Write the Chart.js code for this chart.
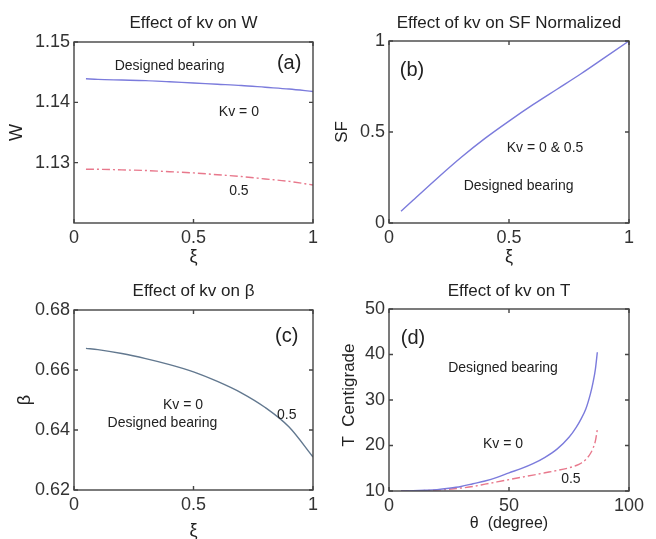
<!DOCTYPE html>
<html>
<head>
<meta charset="utf-8">
<script src="https://cdn.jsdelivr.net/npm/chart.js@4.4.1/dist/chart.umd.min.js"></script>
<style>
  html, body { margin: 0; padding: 0; background: #fff; }
  #wrap { position: relative; width: 656px; height: 539px; overflow: hidden; }
  canvas { position: absolute; }
</style>
</head>
<body>
<div id="wrap">
  <canvas id="chartA" width="328" height="268" style="left:0;top:0"></canvas>
  <canvas id="chartB" width="328" height="268" style="left:328px;top:0"></canvas>
  <canvas id="chartC" width="328" height="271" style="left:0;top:268px"></canvas>
  <canvas id="chartD" width="328" height="271" style="left:328px;top:268px"></canvas>
</div>
<script>
// Data
const xiValues = [0.05, 0.1, 0.2, 0.3, 0.4, 0.5, 0.6, 0.7, 0.8, 0.9, 1.0];
const wKv0 = [1.1439, 1.1438, 1.1437, 1.1436, 1.1434, 1.1432, 1.1430, 1.1428, 1.1425, 1.1422, 1.1418];
const wKv05 = [1.1289, 1.1289, 1.1288, 1.1287, 1.1285, 1.1283, 1.1280, 1.1277, 1.1273, 1.1269, 1.1263];
const sfValues = [0.065, 0.125, 0.245, 0.36, 0.465, 0.56, 0.65, 0.735, 0.82, 0.91, 1.0];
const betaValues = [0.6672, 0.6668, 0.6655, 0.6638, 0.6618, 0.6594, 0.6562, 0.6524, 0.6475, 0.6410, 0.6310];
const thetaValues = [5, 10, 15, 20, 25, 30, 35, 40, 45, 50, 55, 60, 65, 70, 75, 78, 80, 82, 84, 85, 86, 86.8];
const tKv0 = [10, 10.05, 10.15, 10.3, 10.6, 11.0, 11.6, 12.2, 13.0, 14.0, 14.9, 16.0, 17.4, 19.2, 21.8, 24.0, 25.8, 28.0, 31.5, 33.8, 36.8, 40.5];
const tKv05 = [10, 10.02, 10.1, 10.2, 10.4, 10.65, 11.0, 11.5, 12.0, 12.5, 13.0, 13.5, 14.0, 14.5, 15.1, 15.6, 16.1, 16.9, 18.3, 19.4, 21.0, 23.5];

// Tick labels
const xiTicks = [0, 0.5, 1];
const wTicks = [1.13, 1.14, 1.15];
const sfTicks = [0, 0.5, 1];
const betaTicks = [0.62, 0.64, 0.66, 0.68];
const thetaTicks = [0, 50, 100];
const tTicks = [10, 20, 30, 40, 50];

const FONT = '"Liberation Sans", Arial, sans-serif';
const BLUE = '#7b7bdc';
const RED = '#e8788c';
const GREY_BLUE = '#62788f';

const toPoints = (xs, ys) => xs.map((x, i) => ({ x: x, y: ys[i] }));

// box, inward ticks, titles and notes drawn MATLAB-style
const decorPlugin = {
    id: 'decor',
    afterDraw(chart, args, opts) {
        const { ctx, chartArea: a, scales: { x, y } } = chart;
        ctx.save();
        ctx.strokeStyle = '#444';
        ctx.lineWidth = 1.4;
        ctx.strokeRect(a.left, a.top, a.right - a.left, a.bottom - a.top);

        ctx.beginPath();
        x.ticks.forEach(t => {
            const px = x.getPixelForValue(t.value);
            ctx.moveTo(px, a.bottom); ctx.lineTo(px, a.bottom - 4);
            ctx.moveTo(px, a.top); ctx.lineTo(px, a.top + 4);
        });
        y.ticks.forEach(t => {
            const py = y.getPixelForValue(t.value);
            ctx.moveTo(a.left, py); ctx.lineTo(a.left + 4, py);
            ctx.moveTo(a.right, py); ctx.lineTo(a.right - 4, py);
        });
        ctx.stroke();

        ctx.fillStyle = '#222';
        ctx.textAlign = 'center';
        ctx.textBaseline = 'middle';
        ctx.font = '17px ' + FONT;
        ctx.fillText(opts.title, (a.left + a.right) / 2, opts.titleY);

        ctx.font = opts.xTitleSize + 'px ' + FONT;
        ctx.fillText(opts.xTitle, (a.left + a.right) / 2, opts.xTitleY);

        ctx.save();
        ctx.translate(opts.yTitleX, opts.yTitleY || (a.top + a.bottom) / 2);
        ctx.rotate(-Math.PI / 2);
        ctx.font = opts.yTitleSize + 'px ' + FONT;
        ctx.fillText(opts.yTitle, 0, 0);
        ctx.restore();

        opts.notes.forEach(n => {
            ctx.font = n.size + 'px ' + FONT;
            ctx.fillText(n.text, x.getPixelForValue(n.x), y.getPixelForValue(n.y));
        });
        ctx.restore();
    }
};

function makeScale(min, max, tickArr, fit, fmt, axis) {
    return {
        type: 'linear',
        min: min,
        max: max,
        grid: { display: false, drawTicks: false },
        border: { display: false },
        afterBuildTicks: s => { s.ticks = tickArr.map(v => ({ value: v })); },
        afterFit: s => { if (axis === 'x') s.height = fit; else s.width = fit; },
        ticks: {
            color: '#333',
            font: { family: FONT, size: 18 },
            padding: 4,
            maxRotation: 0,
            autoSkip: false,
            callback: fmt
        }
    };
}

function buildChart(id, datasets, x, y, pad, decor) {
    return new Chart(document.getElementById(id), {
        type: 'line',
        data: { datasets: datasets },
        options: {
            responsive: false,
            animation: false,
            events: [],
            layout: { padding: pad },
            elements: { point: { radius: 0 } },
            plugins: { legend: { display: false }, title: { display: false }, tooltip: { enabled: false }, decor: decor },
            scales: { x: x, y: y }
        },
        plugins: [decorPlugin]
    });
}

const plain = v => String(v);
const two = v => v.toFixed(2);

function lineSet(xs, ys, color, dash) {
    return {
        data: toPoints(xs, ys),
        borderColor: color,
        borderWidth: 1.4,
        borderDash: dash || [],
        cubicInterpolationMode: 'monotone',
        fill: false
    };
}

// (a) W
buildChart('chartA',
    [lineSet(xiValues, wKv0, BLUE), lineSet(xiValues, wKv05, RED, [8, 3, 2, 3])],
    makeScale(0, 1, xiTicks, 45, plain, 'x'),
    makeScale(1.12, 1.15, wTicks, 74, two, 'y'),
    { left: 0, right: 15, top: 42, bottom: 0 },
    {
        title: 'Effect of kv on W', titleY: 23,
        xTitle: 'ξ', xTitleY: 257, xTitleSize: 18,
        yTitle: 'W', yTitleX: 17, yTitleSize: 18,
        notes: [
            { text: 'Designed bearing', x: 0.40, y: 1.146, size: 14 },
            { text: '(a)', x: 0.90, y: 1.1465, size: 20 },
            { text: 'Kv = 0', x: 0.69, y: 1.1384, size: 14 },
            { text: '0.5', x: 0.69, y: 1.1253, size: 14 }
        ]
    });

// (b) SF normalized
buildChart('chartB',
    [lineSet(xiValues, sfValues, BLUE)],
    makeScale(0, 1, xiTicks, 45, plain, 'x'),
    makeScale(0, 1, sfTicks, 61, plain, 'y'),
    { left: 0, right: 27, top: 41, bottom: 0 },
    {
        title: 'Effect of kv on SF Normalized', titleY: 23,
        xTitle: 'ξ', xTitleY: 257, xTitleSize: 18,
        yTitle: 'SF', yTitleX: 14, yTitleSize: 17,
        notes: [
            { text: '(b)', x: 0.096, y: 0.84, size: 20 },
            { text: 'Kv = 0 & 0.5', x: 0.65, y: 0.41, size: 14 },
            { text: 'Designed bearing', x: 0.54, y: 0.20, size: 14 }
        ]
    });

// (c) beta
buildChart('chartC',
    [lineSet(xiValues, betaValues, GREY_BLUE)],
    makeScale(0, 1, xiTicks, 49, plain, 'x'),
    makeScale(0.62, 0.68, betaTicks, 74, two, 'y'),
    { left: 0, right: 15, top: 42, bottom: 0 },
    {
        title: 'Effect of kv on β', titleY: 23,
        xTitle: 'ξ', xTitleY: 263, xTitleSize: 18,
        yTitle: 'β', yTitleX: 25, yTitleSize: 18,
        notes: [
            { text: '(c)', x: 0.89, y: 0.6713, size: 20 },
            { text: 'Kv = 0', x: 0.456, y: 0.6483, size: 14 },
            { text: 'Designed bearing', x: 0.37, y: 0.6423, size: 14 },
            { text: '0.5', x: 0.89, y: 0.645, size: 14 }
        ]
    });

// (d) temperature
buildChart('chartD',
    [lineSet(thetaValues, tKv0, BLUE), lineSet(thetaValues, tKv05, RED, [8, 3, 2, 3])],
    makeScale(0, 100, thetaTicks, 48, plain, 'x'),
    makeScale(10, 50, tTicks, 61, plain, 'y'),
    { left: 0, right: 27, top: 41, bottom: 0 },
    {
        title: 'Effect of kv on T', titleY: 23,
        xTitle: 'θ  (degree)', xTitleY: 256, xTitleSize: 16,
        yTitle: 'T  Centigrade', yTitleX: 21, yTitleY: 127, yTitleSize: 17,
        notes: [
            { text: '(d)', x: 10, y: 43.6, size: 20 },
            { text: 'Designed bearing', x: 47.5, y: 37, size: 14 },
            { text: 'Kv = 0', x: 47.5, y: 20.3, size: 14 },
            { text: '0.5', x: 75.8, y: 12.6, size: 14 }
        ]
    });
</script>
</body>
</html>
